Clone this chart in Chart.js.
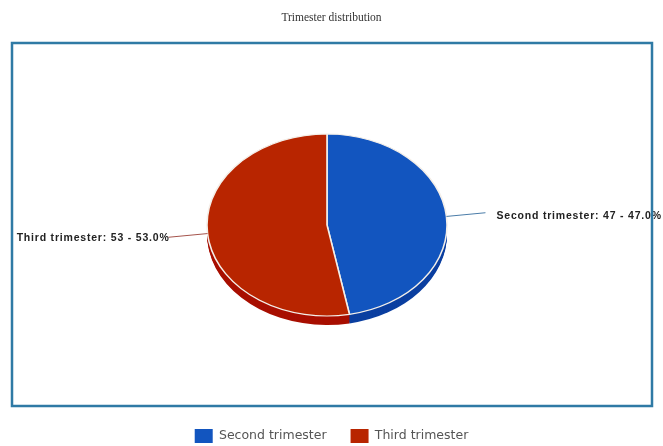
<!DOCTYPE html>
<html>
<head>
<meta charset="utf-8">
<style>
  html, body { margin: 0; padding: 0; background: #fff; }
  #wrap { width: 663px; height: 446px; }
</style>
<script src="https://cdn.jsdelivr.net/npm/chart.js@4/dist/chart.umd.min.js"></script>
</head>
<body>
<div id="wrap"><canvas id="chart"></canvas></div>
<script>
const categories = ['Second trimester', 'Third trimester'];
const counts = [47, 53];
const percents = ['47.0%', '53.0%'];
const faceColors = ['#1255bf', '#b82500'];
const sideColors = ['#0b3fa0', '#a80f00'];
const leaderColors = ['#4a7ca8', '#a5544c'];

// pie look: tilted ellipse with a shallow side wall
const tilt = { cx: 327, cy: 225, squash: 91 / 120, depth: 9 };

function applyTilt(ctx, el) {
  ctx.translate(tilt.cx, tilt.cy);
  ctx.scale(1, tilt.squash);
  ctx.translate(-el.x, -el.y);
}

const tiltedPie = {
  id: 'tiltedPie',
  beforeDatasetsDraw(chart) {
    const ctx = chart.ctx;
    const arcs = chart.getDatasetMeta(0).data;
    // side wall first
    arcs.forEach((el, i) => {
      for (let d = tilt.depth; d > 0; d--) {
        ctx.save();
        ctx.translate(0, d);
        applyTilt(ctx, el);
        ctx.beginPath();
        ctx.moveTo(el.x, el.y);
        ctx.arc(el.x, el.y, el.outerRadius, el.startAngle, el.endAngle);
        ctx.closePath();
        ctx.fillStyle = sideColors[i];
        ctx.fill();
        ctx.restore();
      }
    });
    ctx.save();
    applyTilt(ctx, arcs[0]);
  },
  afterDatasetsDraw(chart) {
    const ctx = chart.ctx;
    ctx.restore();
    const arcs = chart.getDatasetMeta(0).data;
    ctx.save();
    ctx.font = 'bold 10.5px "Liberation Sans"';
    ctx.letterSpacing = '0.8px';
    ctx.textBaseline = 'middle';
    arcs.forEach((el, i) => {
      const mid = (el.startAngle + el.endAngle) / 2;
      const x0 = tilt.cx + el.outerRadius * Math.cos(mid);
      const y0 = tilt.cy + el.outerRadius * tilt.squash * Math.sin(mid);
      const right = Math.cos(mid) > 0;
      const x1 = x0 + (right ? 39 : -39);
      const y1 = y0 + 39 * Math.tan(mid) * (right ? 1 : -1);
      ctx.beginPath();
      ctx.moveTo(x0, y0);
      ctx.lineTo(x1, y1);
      ctx.strokeStyle = leaderColors[i];
      ctx.lineWidth = 1;
      ctx.stroke();
      const text = categories[i] + ': ' + counts[i] + ' - ' + percents[i];
      ctx.fillStyle = '#222';
      ctx.textAlign = right ? 'left' : 'right';
      ctx.fillText(text, right ? x1 + 11 : x1 + 1, y1 + (right ? 3 : 1));
    });
    ctx.restore();
  },
  afterDraw(chart) {
    // frame sits on top of the labels, as in the original
    const ctx = chart.ctx;
    ctx.save();
    ctx.strokeStyle = '#2f7aa5';
    ctx.lineWidth = 2.5;
    ctx.strokeRect(12, 43, 640, 363);
    ctx.restore();
  }
};

new Chart(document.getElementById('chart'), {
  type: 'pie',
  data: {
    labels: categories,
    datasets: [{
      data: counts,
      backgroundColor: faceColors,
      borderColor: '#f4efe9',
      borderWidth: 1.6,
      radius: 120
    }]
  },
  options: {
    responsive: true,
    maintainAspectRatio: false,
    animation: false,
    // negative bottom keeps the wide legend gap from pushing it up
    layout: { padding: { top: 11, bottom: -7 } },
    plugins: {
      title: {
        display: true,
        text: 'Trimester distribution',
        color: '#333',
        font: { family: '"Liberation Serif"', size: 11.5, weight: 'normal' },
        padding: { top: 0, bottom: 10 }
      },
      legend: {
        position: 'bottom',
        labels: {
          boxWidth: 18,
          boxHeight: 14,
          padding: 24,
          color: '#555',
          font: { family: '"DejaVu Sans"', size: 12.5 },
          generateLabels(chart) {
            return Chart.overrides.pie.plugins.legend.labels.generateLabels(chart)
              .map(item => ({ ...item, lineWidth: 0 }));
          }
        }
      },
      tooltip: { enabled: false }
    }
  },
  plugins: [tiltedPie]
});
</script>
</body>
</html>
